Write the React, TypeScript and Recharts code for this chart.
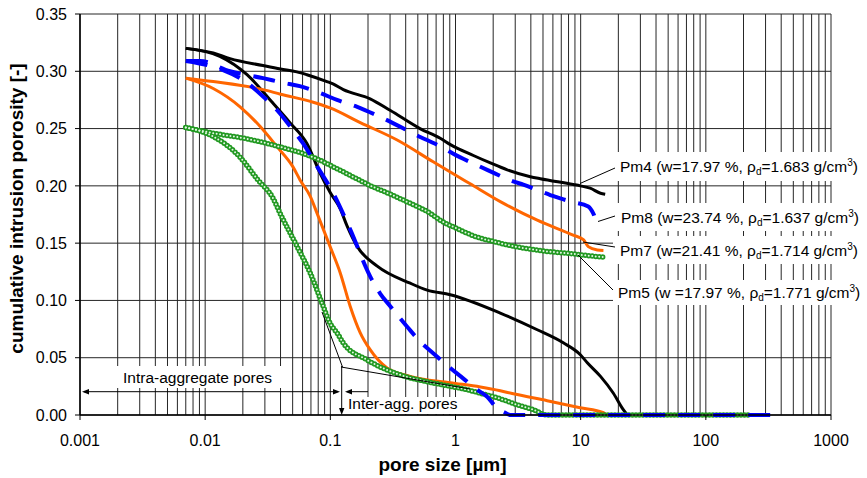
import React from 'react';
import { LineChart, Line, XAxis, YAxis, CartesianGrid } from 'recharts';

// x = pore size [µm], y = cumulative intrusion porosity [-]
type Pt = [number, number];

const xMajor = [0.001, 0.01, 0.1, 1, 10, 100, 1000];
const xMajorLabels = ['0.001', '0.01', '0.1', '1', '10', '100', '1000'];
const xMinorFactors = [2, 3, 4, 5, 6, 7, 8, 9];
const yTicks = [0, 0.05, 0.1, 0.15, 0.2, 0.25, 0.3, 0.35];

// Pm4 (black)
const pm4Extrusion: Pt[] = [
    [0.007, 0.320], [0.0116, 0.316], [0.0158, 0.311], [0.029, 0.305], [0.040, 0.302],
    [0.054, 0.2995], [0.065, 0.297], [0.094, 0.291], [0.105, 0.289], [0.127, 0.284],
    [0.208, 0.276], [0.30, 0.266], [0.52, 0.250], [0.755, 0.2415], [0.91, 0.236],
    [1.39, 0.2265], [1.9, 0.220], [2.59, 0.214], [3.96, 0.208], [4.76, 0.2062],
    [8.73, 0.2012], [9.94, 0.200], [11.9, 0.198], [14.4, 0.1936], [15.7, 0.1927],
];
const pm4Intrusion: Pt[] = [
    [0.007, 0.320], [0.0131, 0.313], [0.0216, 0.297], [0.0349, 0.272], [0.0477, 0.255],
    [0.065, 0.237], [0.0829, 0.211], [0.1, 0.194], [0.12, 0.180], [0.136, 0.165],
    [0.164, 0.147], [0.237, 0.130], [0.435, 0.115], [0.594, 0.109], [0.908, 0.105],
    [2.28, 0.089], [4.5, 0.0744], [7.26, 0.063], [9.94, 0.0526], [11.3, 0.0456],
    [14.4, 0.0337], [18.2, 0.0192], [21.9, 0.0046], [23.6, 0],
];

// Pm8 (blue dashed)
const pm8Extrusion: Pt[] = [
    [0.007, 0.309], [0.0091, 0.309], [0.0158, 0.300], [0.029, 0.294], [0.042, 0.290],
    [0.057, 0.287], [0.083, 0.281], [0.113, 0.275], [0.164, 0.269], [0.264, 0.259],
    [0.494, 0.244], [0.80, 0.233], [0.96, 0.228], [1.49, 0.218], [1.79, 0.214],
    [2.89, 0.204], [3.48, 0.201], [5.72, 0.192], [6.88, 0.189], [8.57, 0.186],
    [11.5, 0.182], [12.6, 0.176], [13.6, 0.167], [14.1, 0.165],
];
const pm8Intrusion: Pt[] = [
    [0.007, 0.309], [0.0139, 0.301], [0.0216, 0.290], [0.029, 0.278], [0.0376, 0.266],
    [0.0477, 0.252], [0.0606, 0.237], [0.0784, 0.217], [0.105, 0.194], [0.144, 0.162],
    [0.208, 0.121], [0.25, 0.106], [0.301, 0.095], [0.411, 0.077], [0.523, 0.064],
    [0.663, 0.054], [0.908, 0.041], [1.15, 0.032], [1.49, 0.022], [1.79, 0.016],
    [2.15, 0.006], [2.5, 0.002], [2.74, 0], [406, 0],
];

// Pm7 (orange)
const pm7Extrusion: Pt[] = [
    [0.007, 0.294], [0.0116, 0.291], [0.029, 0.284], [0.040, 0.280], [0.073, 0.273],
    [0.0996, 0.268], [0.175, 0.255], [0.342, 0.240], [0.663, 0.221], [1.3, 0.202],
    [2.3, 0.186], [4.5, 0.170], [8.7, 0.157], [10.5, 0.153], [11.5, 0.147],
    [13.6, 0.144], [15.2, 0.1435],
];
const pm7Intrusion: Pt[] = [
    [0.007, 0.294], [0.0116, 0.285], [0.019, 0.269], [0.0274, 0.252], [0.0376, 0.234],
    [0.050, 0.217], [0.0574, 0.205], [0.069, 0.191], [0.0784, 0.176], [0.0996, 0.147],
    [0.12, 0.124], [0.144, 0.095], [0.173, 0.072], [0.208, 0.057], [0.284, 0.041],
    [0.435, 0.0337], [0.908, 0.0282], [1.58, 0.0245], [2.28, 0.0212], [2.9, 0.0185],
    [5.4, 0.0125], [9.9, 0.0064], [15.2, 0.002], [16.3, 0], [200, 0],
];

// Pm5 (green markers)
const pm5Extrusion: Pt[] = [
    [0.007, 0.251], [0.0116, 0.246], [0.0216, 0.241], [0.0397, 0.234], [0.0729, 0.225],
    [0.113, 0.215], [0.164, 0.206], [0.22, 0.199], [0.284, 0.194], [0.411, 0.186],
    [0.628, 0.176], [0.755, 0.170], [1.09, 0.1615], [1.385, 0.1565], [2.0, 0.1515],
    [2.59, 0.1485], [4.76, 0.1435], [8.73, 0.1406], [11.9, 0.1389], [15.2, 0.1378],
];
const pm5Intrusion: Pt[] = [
    [0.007, 0.251], [0.0116, 0.243], [0.019, 0.225], [0.026, 0.206], [0.0349, 0.189],
    [0.0397, 0.176], [0.0543, 0.147], [0.069, 0.124], [0.0876, 0.095], [0.0996, 0.080],
    [0.1133, 0.0715], [0.1266, 0.063], [0.197, 0.048], [0.362, 0.035], [0.663, 0.028],
    [1.24, 0.022], [1.58, 0.019], [2.15, 0.015], [3.3, 0.008], [4.18, 0.0046],
    [5.4, 0], [227, 0],
];

const toRows = (pts: Pt[]) => pts.map(([x, y]) => ({ x, y }));

const xTicks: number[] = [];
xMajor.forEach((m, i) => {
    xTicks.push(m);
    if (i < xMajor.length - 1) xMinorFactors.forEach(f => xTicks.push(+(m * f).toPrecision(6)));
});

const FONT = '"Liberation Sans", Arial, Helvetica, sans-serif';

const XTick = ({ x, y, payload }: any) => {
    const idx = xMajor.findIndex(m => Math.abs(m - payload.value) / m < 1e-6);
    if (idx < 0) return null;
    return (
        <g>
            <line x1={x} x2={x} y1={y} y2={y + 5} stroke="#000" />
            <text x={x} y={y + 31} textAnchor="middle" fontSize={16} fill="#000" fontFamily={FONT}>
                {xMajorLabels[idx]}
            </text>
        </g>
    );
};

const green = '#229922';
const greenFill = '#e4f6e4';

export default function App() {
    return (
        <div style={{ position: 'absolute', left: 0, top: 0, width: 867, height: 478, background: '#fff', fontFamily: FONT }}>
            <LineChart width={867} height={478} margin={{ top: 14, right: 36, bottom: 0, left: 0 }}>
                <CartesianGrid stroke="#262626" strokeWidth={1} />
                <XAxis
                    type="number"
                    dataKey="x"
                    scale="log"
                    domain={[0.001, 1000]}
                    allowDataOverflow
                    ticks={xTicks}
                    interval={0}
                    height={63}
                    tickSize={0}
                    tickMargin={0}
                    tickLine={false}
                    tick={<XTick />}
                    axisLine={{ stroke: '#000', strokeWidth: 1.5 }}
                />
                <YAxis
                    type="number"
                    domain={[0, 0.35]}
                    ticks={yTicks}
                    width={80}
                    tickSize={5}
                    tickMargin={8}
                    tickFormatter={(v: number) => v.toFixed(2)}
                    tick={{ fill: '#000', fontSize: 16, fontFamily: FONT }}
                    tickLine={{ stroke: '#000' }}
                    axisLine={{ stroke: '#000', strokeWidth: 1.5 }}
                />

                <Line data={toRows(pm4Extrusion)} dataKey="y" type="monotone" stroke="#000" strokeWidth={3} dot={false} activeDot={false} isAnimationActive={false} />
                <Line data={toRows(pm4Intrusion)} dataKey="y" type="monotone" stroke="#000" strokeWidth={3} dot={false} activeDot={false} isAnimationActive={false} />

                <Line data={toRows(pm7Extrusion)} dataKey="y" type="monotone" stroke="#ff6600" strokeWidth={3} dot={false} activeDot={false} isAnimationActive={false} />
                <Line data={toRows(pm7Intrusion)} dataKey="y" type="monotone" stroke="#ff6600" strokeWidth={3} dot={false} activeDot={false} isAnimationActive={false} />

                {/* Pm5 ring markers: outer green dots, then light centres */}
                <Line data={toRows(pm5Extrusion)} dataKey="y" type="monotone" stroke={green} strokeWidth={5.5} strokeDasharray="0 3.5" strokeLinecap="round" dot={false} activeDot={false} isAnimationActive={false} />
                <Line data={toRows(pm5Intrusion)} dataKey="y" type="monotone" stroke={green} strokeWidth={5.5} strokeDasharray="0 3.5" strokeLinecap="round" dot={false} activeDot={false} isAnimationActive={false} />
                <Line data={toRows(pm5Extrusion)} dataKey="y" type="monotone" stroke={greenFill} strokeWidth={2} strokeDasharray="0 3.5" strokeLinecap="round" dot={false} activeDot={false} isAnimationActive={false} />
                <Line data={toRows(pm5Intrusion)} dataKey="y" type="monotone" stroke={greenFill} strokeWidth={2} strokeDasharray="0 3.5" strokeLinecap="round" dot={false} activeDot={false} isAnimationActive={false} />

                <Line data={toRows(pm8Extrusion)} dataKey="y" type="monotone" stroke="#0000ff" strokeWidth={4} strokeDasharray="22 13" dot={false} activeDot={false} isAnimationActive={false} />
                <Line data={toRows(pm8Intrusion)} dataKey="y" type="monotone" stroke="#0000ff" strokeWidth={4} strokeDasharray="22 13" dot={false} activeDot={false} isAnimationActive={false} />
            </LineChart>

            {/* annotations */}
            <svg width={867} height={478} style={{ position: 'absolute', left: 0, top: 0, pointerEvents: 'none' }} fontFamily={FONT}>
                <rect x={613} y={152} width={254} height={29} fill="#fff" />
                <rect x={613} y={203} width={254} height={28} fill="#fff" />
                <rect x={613} y={236} width={254} height={28} fill="#fff" />
                <rect x={613} y={280} width={254} height={25} fill="#fff" />
                <rect x={117} y={366} width={165} height={22} fill="#fff" />
                <rect x={346} y={397} width={116} height={17} fill="#fff" />

                <g stroke="#000" strokeWidth={1} fill="none">
                    <line x1={580} y1={183.5} x2={615} y2={168} />
                    <line x1={598} y1={221.5} x2={615} y2={216} />
                    <line x1={583} y1={242} x2={615} y2={247} />
                    <line x1={578} y1={255} x2={613} y2={290} />

                    <line x1={84} y1={391.7} x2={338} y2={391.7} />
                    <line x1={347} y1={391.7} x2={368} y2={391.7} />
                    <line x1={341.7} y1={366} x2={341.7} y2={410} />
                    <line x1={322} y1={312} x2={342.5} y2={367} />
                    <line x1={341} y1={367} x2={470} y2={389} />
                </g>
                <g fill="#000">
                    <polygon points="82,391.7 89,389 89,394.4" />
                    <polygon points="340,391.7 333,389 333,394.4" />
                    <polygon points="345,391.7 352,389 352,394.4" />
                    <polygon points="341.7,415 339,408 344.4,408" />
                </g>

                <g fontSize={15.5} fill="#000">
                    <text x={620} y={171.7}>
                        Pm4 (w=17.97 %, ρ<tspan fontSize={10} dy={3}>d</tspan><tspan dy={-3}>=1.683 g/cm</tspan><tspan fontSize={10} dy={-6}>3</tspan><tspan dy={6}>)</tspan>
                    </text>
                    <text x={621} y={222.7}>
                        Pm8 (w=23.74 %, ρ<tspan fontSize={10} dy={3}>d</tspan><tspan dy={-3}>=1.637 g/cm</tspan><tspan fontSize={10} dy={-6}>3</tspan><tspan dy={6}>)</tspan>
                    </text>
                    <text x={620} y={256}>
                        Pm7 (w=21.41 %, ρ<tspan fontSize={10} dy={3}>d</tspan><tspan dy={-3}>=1.714 g/cm</tspan><tspan fontSize={10} dy={-6}>3</tspan><tspan dy={6}>)</tspan>
                    </text>
                    <text x={618} y={298.3}>
                        Pm5 (w =17.97 %, ρ<tspan fontSize={10} dy={3}>d</tspan><tspan dy={-3}>=1.771 g/cm</tspan><tspan fontSize={10} dy={-6}>3</tspan><tspan dy={6}>)</tspan>
                    </text>
                    <text x={123} y={383.3}>Intra-aggregate pores</text>
                    <text x={348} y={409.3}>Inter-agg. pores</text>
                </g>

                <text x={442.5} y={470.5} textAnchor="middle" fontSize={19} fontWeight="bold" fill="#000">
                    pore size [µm]
                </text>
                <text
                    x={0}
                    y={0}
                    transform="translate(23,208.5) rotate(-90)"
                    textAnchor="middle"
                    fontSize={19}
                    fontWeight="bold"
                    fill="#000"
                >
                    cumulative intrusion porosity [-]
                </text>
            </svg>
        </div>
    );
}
